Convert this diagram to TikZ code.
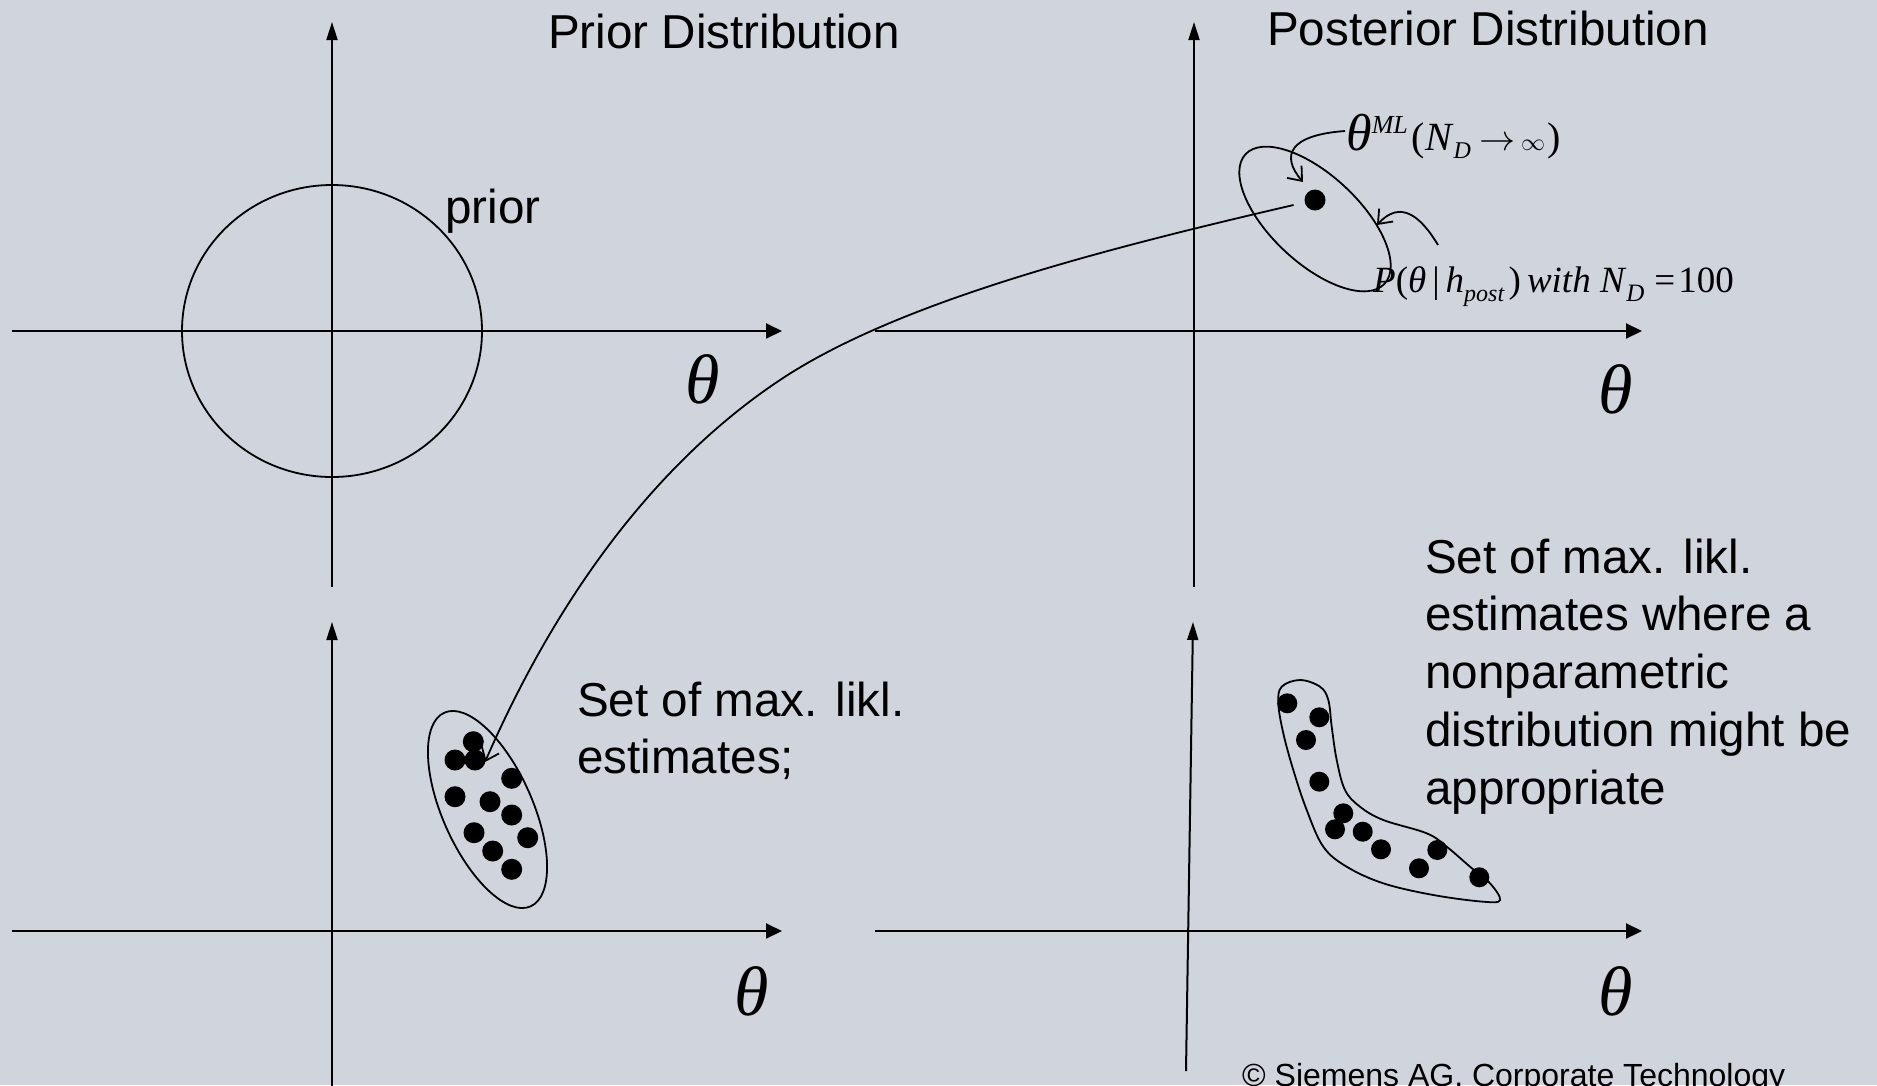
\documentclass[tikz,border=0pt]{standalone}
\usepackage{graphicx}
\usepackage{fontspec}
\setmainfont{Liberation Sans}
\newfontfamily\mathserif{Liberation Serif}
\usetikzlibrary{arrows.meta}
\definecolor{bgcol}{RGB}{208,212,221}
\begin{document}
\begin{tikzpicture}[x=1pt,y=-1pt,
  haxis/.style={line width=2pt, -{Triangle[length=16pt,width=15pt]}},
  vaxis/.style={line width=2pt, -{Triangle[length=18pt,width=11pt]}},
  curve/.style={line width=1.8pt},
  barb/.style={line width=1.8pt, -{Straight Barb[length=12pt,width=19pt]}},
  dotn/.style={circle, fill=black, inner sep=0pt, minimum size=21pt},
  sans/.style={font=\fontsize{47.6}{57.7}\selectfont, inner sep=0pt},
  thetalab/.style={font=\mathserif\fontsize{70}{70}\selectfont, inner sep=0pt},
  mathlab/.style={font=\mathserif, inner sep=0pt}
]
\fill[bgcol] (0,0) rectangle (1877,1085);
\useasboundingbox (0,0) rectangle (1877,1085);

% axes
\draw[vaxis] (332,587) -- (332,22);
\draw[haxis] (12,331) -- (782,331);
\draw[vaxis] (1194,587) -- (1194,22);
\draw[haxis] (875,331) -- (1642,331);
\draw[vaxis] (332,1090) -- (332,622);
\draw[haxis] (12,931) -- (782,931);
\draw[vaxis] (1186,1071) -- (1193,622);
\draw[haxis] (875,931) -- (1642,931);

% titles
\node[sans, anchor=base west] (tprior) at (548,48) {Prior Distribution};
\node[sans, anchor=base west] (tpost) at (1267,45) {Posterior Distribution};
\node[sans, anchor=base west] (lprior) at (445,223) {prior};

% theta labels
\node[thetalab] (th1) at (703,379) {\textit{θ}};
\node[thetalab] (th2) at (1616,389) {\textit{θ}};
\node[thetalab] (th3) at (752,991) {\textit{θ}};
\node[thetalab] (th4) at (1616,991) {\textit{θ}};

% prior circle
\draw[curve] (332,331) ellipse [x radius=150, y radius=146];

% posterior ellipse and ML point
\draw[curve, rotate around={-43:(1315,219)}] (1315,219) ellipse [x radius=95, y radius=44];
\node[dotn] (mlpt) at (1315,200) {};

% labels top right
\node[mathlab, anchor=base west] (mllab) at (1346,150)
  {{\fontsize{52}{52}\selectfont\textit{θ}}\raisebox{17pt}{\fontsize{26}{26}\selectfont\textit{ML}}\kern4pt{\fontsize{40}{40}\selectfont(\textit{N}\raisebox{-8pt}{\fontsize{24}{24}\selectfont\textit{D}}\kern8pt\resizebox{36pt}{!}{$\rightarrow$}\kern6pt\resizebox{24pt}{!}{$\infty$}\kern2pt)}};
\node[mathlab, anchor=base west, font=\mathserif\fontsize{37}{37}\selectfont] (plab) at (1373,292)
  {\textit{P}(\textit{θ}\kern6pt|\kern6pt\textit{h}\raisebox{-9pt}{\fontsize{24}{24}\selectfont\textit{post}}\kern4pt)\kern6pt\textit{with N}\raisebox{-9pt}{\fontsize{25}{25}\selectfont\textit{D}}\kern10pt=\kern3pt100};

\coordinate (mlfrom) at (1345,131);
\coordinate (mlto) at (1303,182);
\draw[barb] (mlfrom) .. controls (1290,135) and (1280,155) .. (mlto);
\coordinate (pfrom) at (1438,245);
\coordinate (pto) at (1377,225);
\draw[barb] (pfrom) .. controls (1420,215) and (1400,200) .. (pto);

% bottom-left set
\draw[curve, rotate around={-66:(487.5,809.5)}] (487.5,809.5) ellipse [x radius=106, y radius=45];
\foreach \x/\y [count=\i] in {473.3/741.7, 455/760, 475/760, 511.7/778.3, 455/796.7, 490/801.7, 511.7/815, 474/832.7, 527.7/837.7, 492.7/851, 511.7/869.3}
  {\node[dotn] (bl\i) at (\x,\y) {};}

% long connector
\coordinate (cltip) at (485,762);
\draw[barb, shorten <=22pt] (mlpt.center) .. controls (1113,247) and (900,300) .. (780,380)
   .. controls (660,460) and (560,590) .. (cltip);

% bottom-right set
\draw[curve] plot[smooth cycle, tension=0.6] coordinates {
 (1281.7,686.7) (1300,680) (1320,686.7) (1328.3,700) (1331.7,726.7) (1336.7,760)
 (1345,790) (1360,806.7) (1383.3,820) (1426.7,833.3) (1446.7,846.7) (1470,866.7)
 (1490,883.3) (1500,900) (1483.3,901.7) (1433.3,895) (1383.3,883.3) (1346.7,866.7)
 (1323.3,846.7) (1306.7,810) (1293.3,770) (1283.3,733.3) (1278.3,703.3)};
\foreach \x/\y [count=\i] in {1287.3/703.3, 1319.3/717.3, 1306/740, 1319.3/781.7, 1343.3/813.3, 1335/829.3, 1362.7/831.7, 1381/849.3, 1419/868.3, 1437.3/850, 1479.3/877.3}
  {\node[dotn, minimum size=20pt] (br\i) at (\x,\y) {};}

% texts
\node[sans, anchor=north west, align=left] (lset) at (577,675.6)
  {\strut Set of max. likl.\\estimates;};
\node[sans, anchor=north west, align=left] (rset) at (1425,532.6)
  {\strut Set of max. likl.\\estimates where a\\nonparametric\\distribution might be\\appropriate};

\node[anchor=base west, inner sep=0pt, font=\fontsize{32}{38}\selectfont] (copy) at (1242,1086)
  {© Siemens AG, Corporate Technology};
\end{tikzpicture}
\end{document}
